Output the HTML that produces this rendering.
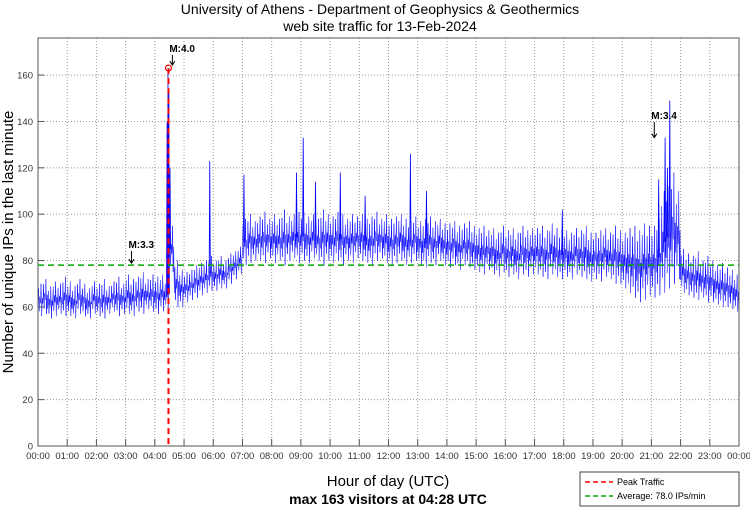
<!DOCTYPE html>
<html><head><meta charset="utf-8"><style>
body{margin:0;background:#fff;font-family:"Liberation Sans",sans-serif}
svg text{font-family:"Liberation Sans",sans-serif}
</style></head><body>
<svg id="chart" width="750" height="511" viewBox="0 0 750 511">
<text x="380" y="14" font-size="14" text-anchor="middle">University of Athens - Department of Geophysics &amp; Geothermics</text>
<text x="380" y="31" font-size="14" text-anchor="middle">web site traffic for 13-Feb-2024</text>
<g id="grid"></g>
<g id="series"></g>
<rect x="38" y="38" width="701" height="408" fill="none" stroke="#555" stroke-width="1"/>
<g id="ticks"></g>
<g id="overlay"></g>
<text transform="translate(13,242) rotate(-90)" font-size="15" text-anchor="middle">Number of unique IPs in the last minute</text>
<text x="388" y="486" font-size="15" text-anchor="middle">Hour of day (UTC)</text>
<text x="388" y="504" font-size="14" font-weight="bold" text-anchor="middle">max 163 visitors at 04:28 UTC</text>
<g>
<rect x="580" y="472" width="159" height="34" fill="#fff" stroke="#444"/>
<line x1="585" y1="482" x2="613" y2="482" stroke="#f00" stroke-dasharray="5,3" stroke-width="1.5"/>
<text x="617" y="485" font-size="9">Peak Traffic</text>
<line x1="585" y1="496" x2="613" y2="496" stroke="#0a0" stroke-dasharray="5,3" stroke-width="1.5"/>
<text x="617" y="499" font-size="9">Average: 78.0 IPs/min</text>
</g>
</svg>
<script>
const yTicks=[0,20,40,60,80,100,120,140,160];
const xTickLabels=["00:00","01:00","02:00","03:00","04:00","05:00","06:00","07:00","08:00","09:00","10:00","11:00","12:00","13:00","14:00","15:00","16:00","17:00","18:00","19:00","20:00","21:00","22:00","23:00","00:00"];
const binLo=[56,57,55,56,57,56, 56,55,57,56,55,57, 56,55,57,58,56,57, 57,56,58,57,59,58, 57,58,59,75,60,60,
 62,63,64,65,66,67, 67,68,68,70,72,74, 78,79,80,80,79,81, 79,80,78,80,81,79, 80,79,81,80,78,80,
 79,80,78,80,79,81, 80,79,78,80,81,79, 78,79,80,78,79,80, 78,77,79,78,80,78, 77,78,76,78,77,76,
 75,74,76,74,73,75, 73,74,72,74,73,74, 74,73,72,74,73,72, 73,72,74,73,72,71, 72,71,73,72,70,70,
 68,66,64,62,63,65, 64,65,66,68,70,72, 66,65,64,63,64,62, 62,61,60,60,59,58];
const binHi=[70,72,69,71,70,73, 71,69,72,70,68,71, 70,72,69,71,73,70, 74,72,73,75,72,74, 73,74,72,95,80,76,
 75,76,78,79,80,82, 80,82,80,83,84,86, 98,100,97,99,101,98, 100,98,102,99,100,101, 101,99,100,98,102,100,
 99,101,100,98,100,99, 100,98,99,101,98,100, 98,99,100,98,97,99, 97,98,99,97,98,96, 96,97,95,96,97,95,
 94,95,93,94,92,95, 93,94,92,95,93,94, 94,95,93,96,94,93, 93,92,94,93,95,92, 92,93,94,92,95,93,
 92,94,95,93,96,95, 95,98,110,112,118,110, 85,83,82,84,80,82, 80,78,79,77,76,74];
const spikeHours=[4.42,4.45,4.48,4.52,5.88,7.05,8.85,9.08,9.5,10.35,11.2,12.75,13.3,17.95,21.25,21.47,21.55,21.63];
const spikeValues=[140,163,154,120,123,117,118,133,114,118,108,126,110,102,115,133,120,149];
const avgValue=78.0, peakHour=4.467, peakValue=163;

const X0=38,X1=739,Y0=446,Y1=38,YMAX=176;
const xs=h=>X0+h/24*(X1-X0);
const ys=v=>Y0-v/YMAX*(Y0-Y1);
const NS="http://www.w3.org/2000/svg";
function mk(tag,attrs,parent){const e=document.createElementNS(NS,tag);for(const k in attrs)e.setAttribute(k,attrs[k]);parent.appendChild(e);return e;}
const grid=document.getElementById('grid'),ticks=document.getElementById('ticks'),ser=document.getElementById('series'),ov=document.getElementById('overlay');
yTicks.forEach(v=>{
 if(v>0){const g=mk('line',{x1:X0,x2:X1,y1:ys(v),y2:ys(v),stroke:'#999','stroke-dasharray':'1,2'},grid);
 
 }
 const t=mk('line',{x1:X0,x2:X0+6,y1:ys(v),y2:ys(v),stroke:'#555'},ticks);
 
 
 const l=mk('text',{x:X0-5,y:ys(v)+3.5,'font-size':'9.5','text-anchor':'end',fill:'#333'},ticks);
 
 
 l.textContent=v;
});
xTickLabels.forEach((s,i)=>{
 const x=xs(i);
 if(i>0&&i<24){const g=mk('line',{x1:x,x2:x,y1:Y1,y2:Y0,stroke:'#999','stroke-dasharray':'1,2'},grid);
 
 }
 const t=mk('line',{x1:x,x2:x,y1:Y0,y2:Y0-7,stroke:'#555'},ticks);
 
 
 const l=mk('text',{x:x,y:Y0+13,'font-size':'9.5','text-anchor':'middle',fill:'#333'},ticks);
 
 
 l.textContent=s;
});
// band rendering pattern inside each 10-minute bin
const pat=[0.3,0.85,0.15,0.6,0.4,1,0.0,0.55];
let pts=[];
binLo.forEach((lo,i)=>{
 const hi=binHi[i];
 for(let k=0;k<pat.length;k++){
  const h=(i+k/pat.length)/6;
  pts.push(xs(h).toFixed(2)+','+ys(lo+(hi-lo)*pat[k]).toFixed(2));
 }
});
const pl=mk('polyline',{points:pts.join(' '),fill:'none',stroke:'#00f','stroke-width':'0.5'},ser);


spikeHours.forEach((h,i)=>{
 const b=Math.floor(h*6),base=(binLo[b]+binHi[b])/2;
 const s=mk('polyline',{points:`${xs(h-0.02)},${ys(base)} ${xs(h)},${ys(spikeValues[i])} ${xs(h+0.02)},${ys(base)}`,fill:'none',stroke:'#00f','stroke-width':'0.8'},ser);
 
 
});
const av=mk('line',{x1:X0,x2:X1,y1:ys(avgValue),y2:ys(avgValue),stroke:'#0a0','stroke-dasharray':'6,4','stroke-width':'1.5'},ov);


const pk=mk('line',{x1:xs(peakHour),x2:xs(peakHour),y1:ys(peakValue),y2:Y0,stroke:'#f00','stroke-dasharray':'6,4','stroke-width':'2'},ov);


const pc=mk('circle',{cx:xs(peakHour),cy:ys(peakValue),r:3,fill:'none',stroke:'#f00','stroke-width':'1.2'},ov);


const quakes=[["M:4.0",4.6,52,ys(163)-3],["M:3.3",3.2,248,ys(78)-2],["M:3.4",21.1,119,ys(133)]];
quakes.forEach(q=>{
 const x=xs(q[1]);
 const t=mk('text',{x:x-3,y:q[2],'font-size':'10','font-weight':'bold'},ov);
 
 
 t.textContent=q[0];
 const a=mk('path',{d:`M${x} ${q[2]+3} L${x} ${q[3]} M${x-2.5} ${q[3]-4} L${x} ${q[3]} L${x+2.5} ${q[3]-4}`,stroke:'#000',fill:'none','stroke-width':'1'},ov);
 
 
});
</script>
</body></html>
